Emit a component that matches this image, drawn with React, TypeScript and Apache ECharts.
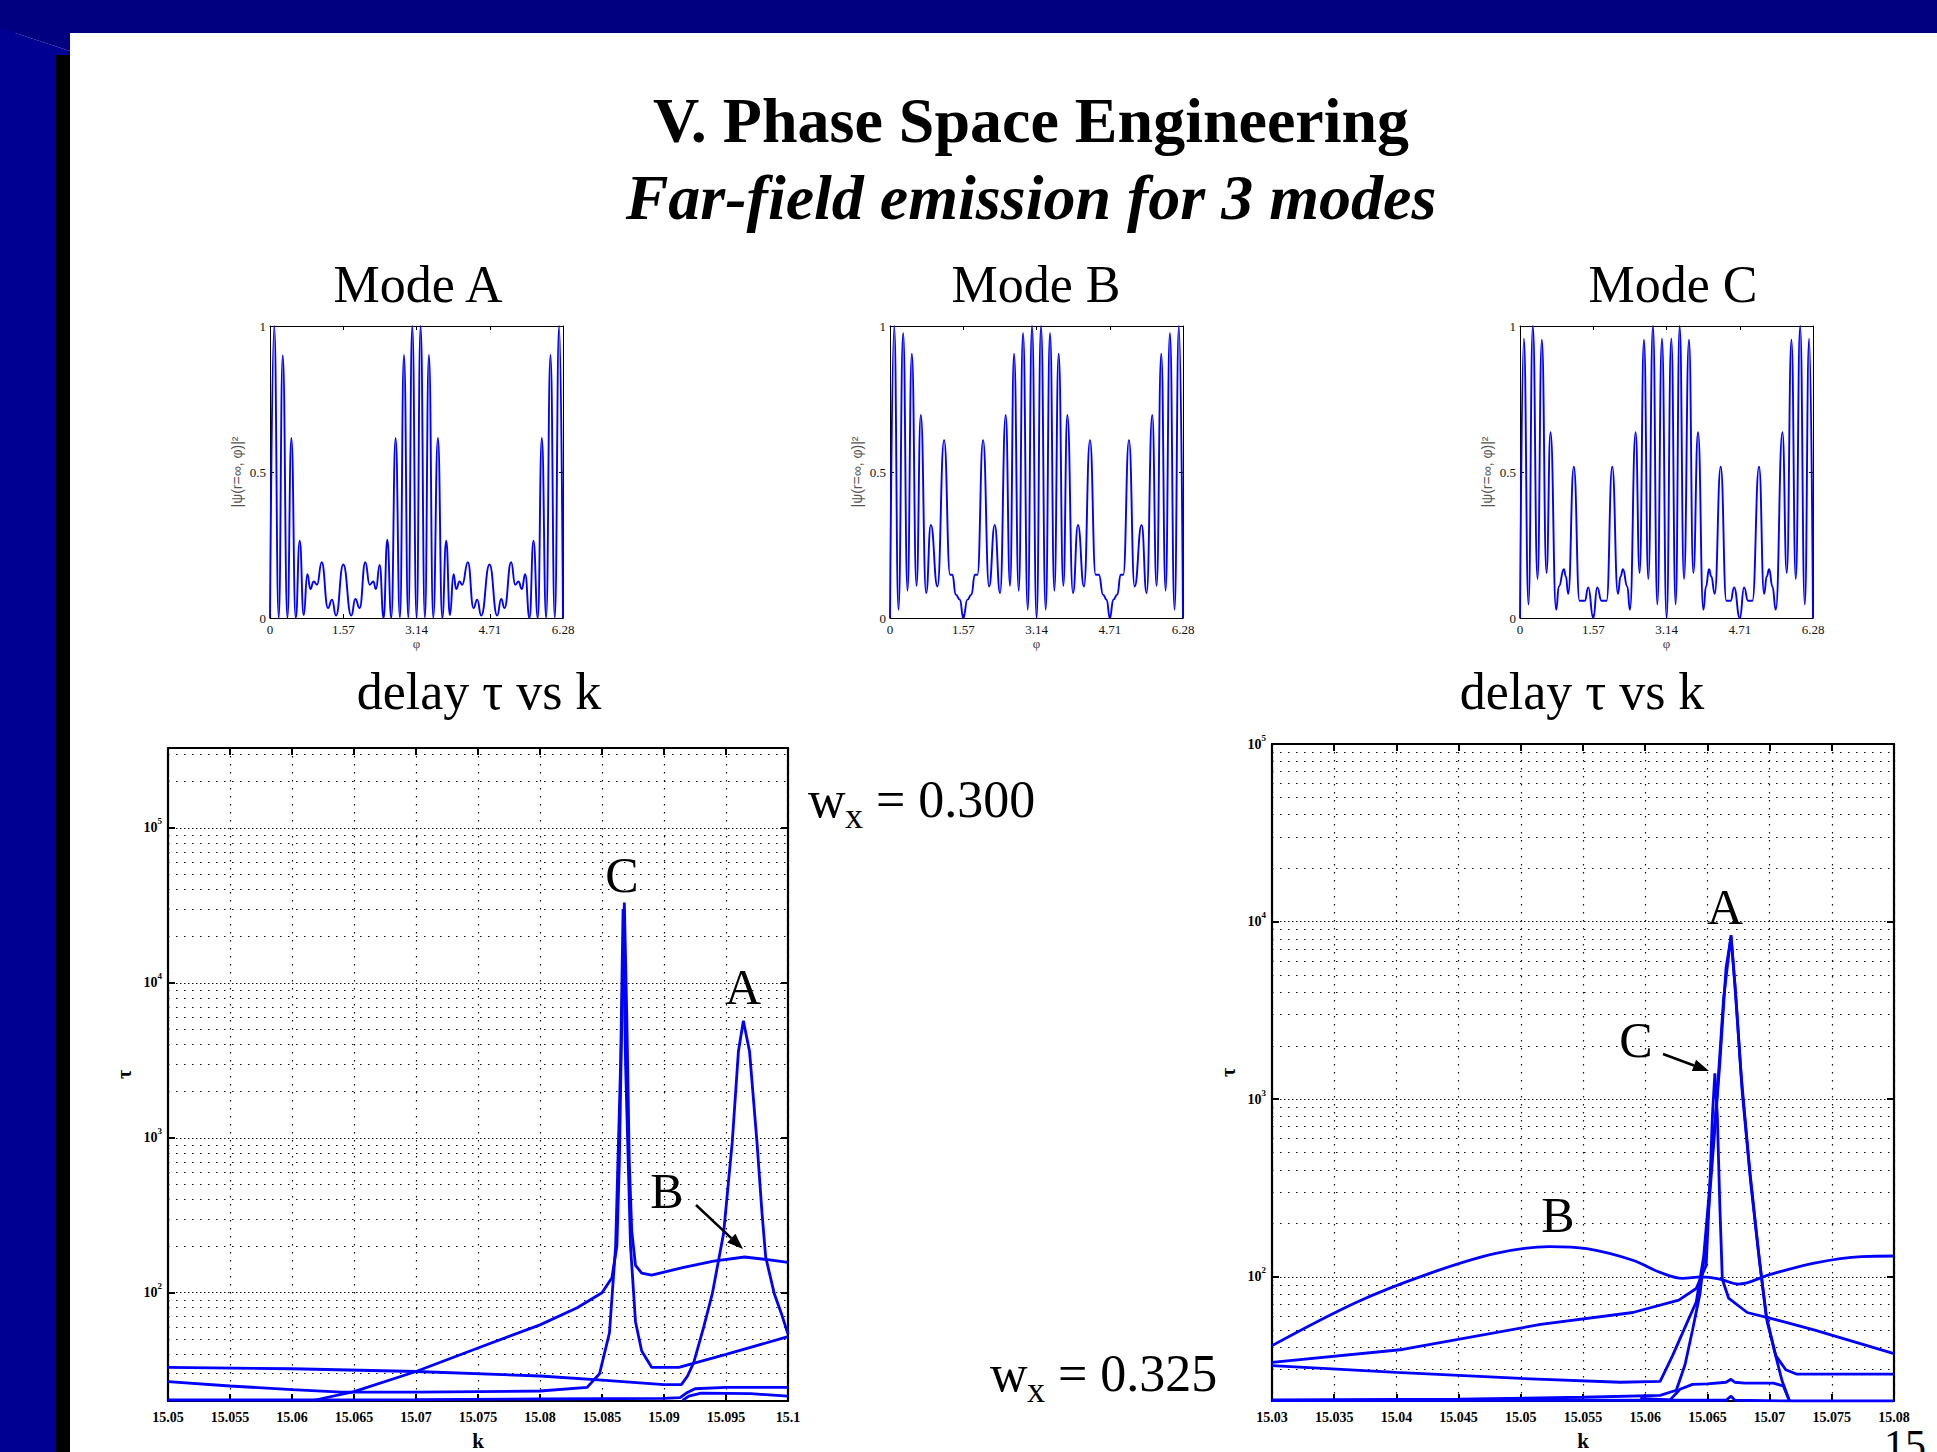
import React, { useEffect, useRef } from 'react';
import * as echarts from 'echarts';

const W = 1937;
const H = 1452;
const SERIF = '"Liberation Serif", "Times New Roman", serif';
const SANS = '"Liberation Sans", Arial, sans-serif';
const BLUE = '#0000ff';

// ---------- far-field plots ----------
const phiTicks = ['0', '1.57', '3.14', '4.71', '6.28'];
const psiTicks = ['0', '0.5', '1'];

const modeA = [
  [0, 0], [0.09, 1.0], [0.187, 0], [0.273, 0.9], [0.373, 0], [0.458, 0.617], [0.551, 0], [0.637, 0.265],
  [0.722, 0.01], [0.801, 0.15], [0.865, 0.099], [0.936, 0.125], [1.008, 0.114], [1.108, 0.191], [1.243, 0.034],
  [1.329, 0.063], [1.415, 0.008], [1.57, 0.183], [1.743, 0.008], [1.829, 0.065], [1.921, 0.034], [2.043, 0.191],
  [2.136, 0.114], [2.214, 0.125], [2.271, 0.099], [2.35, 0.182], [2.435, 0], [2.514, 0.268], [2.6, 0],
  [2.692, 0.617], [2.785, 0], [2.871, 0.902], [2.964, 0], [3.049, 1.0], [3.142, 0], [3.228, 1.0], [3.32, 0],
  [3.406, 0.902], [3.499, 0], [3.599, 0.617], [3.692, 0], [3.777, 0.265], [3.856, 0.01], [3.934, 0.15],
  [3.991, 0.099], [4.063, 0.125], [4.12, 0.114], [4.241, 0.191], [4.363, 0.034], [4.441, 0.063], [4.527, 0.008],
  [4.705, 0.183], [4.869, 0.008], [4.955, 0.065], [5.026, 0.034], [5.169, 0.191], [5.255, 0.114], [5.326, 0.125],
  [5.398, 0.099], [5.469, 0.15], [5.562, 0], [5.647, 0.265], [5.74, 0], [5.826, 0.617], [5.919, 0], [6.011, 0.902],
  [6.104, 0], [6.197, 1.0], [6.28, 0],
];

const modeB = [
  [0, 0], [0.09, 1.0], [0.182, 0.028], [0.282, 0.976], [0.375, 0.093], [0.468, 0.905], [0.568, 0.11], [0.66, 0.695],
  [0.775, 0.085], [0.875, 0.319], [1.017, 0.108], [1.16, 0.609], [1.288, 0.148], [1.338, 0.148], [1.408, 0.08],
  [1.498, 0.063], [1.571, 0], [1.658, 0.063], [1.745, 0.08], [1.818, 0.148], [1.874, 0.148], [1.995, 0.609],
  [2.124, 0.108], [2.245, 0.319], [2.359, 0.085], [2.48, 0.695], [2.573, 0.11], [2.659, 0.905], [2.759, 0.093],
  [2.852, 0.976], [2.952, 0.028], [3.044, 1.0], [3.142, 0], [3.237, 1.0], [3.337, 0.028], [3.43, 0.976],
  [3.523, 0.093], [3.615, 0.905], [3.715, 0.11], [3.801, 0.695], [3.922, 0.085], [4.029, 0.319], [4.158, 0.108],
  [4.286, 0.609], [4.408, 0.148], [4.478, 0.148], [4.565, 0.08], [4.643, 0.063], [4.712, 0], [4.786, 0.063],
  [4.872, 0.08], [4.943, 0.148], [5.0, 0.148], [5.122, 0.609], [5.243, 0.108], [5.393, 0.319], [5.5, 0.085],
  [5.621, 0.695], [5.714, 0.11], [5.814, 0.905], [5.907, 0.093], [5.999, 0.976], [6.099, 0.028], [6.192, 1.0],
  [6.28, 0],
];

const modeC = [
  [0, 0], [0.082, 0.957], [0.182, 0.046], [0.275, 1.0], [0.375, 0.133], [0.468, 0.953], [0.568, 0.154],
  [0.654, 0.636], [0.775, 0.028], [0.833, 0.108], [0.94, 0.167], [0.983, 0.142], [1.033, 0.083], [1.154, 0.518],
  [1.276, 0.059], [1.39, 0.059], [1.462, 0.105], [1.571, 0], [1.655, 0.105], [1.748, 0.059], [1.856, 0.059],
  [1.977, 0.518], [2.099, 0.083], [2.156, 0.142], [2.206, 0.167], [2.299, 0.108], [2.356, 0.028], [2.478, 0.636],
  [2.564, 0.154], [2.657, 0.953], [2.75, 0.133], [2.85, 1.0], [2.943, 0.046], [3.043, 0.957], [3.142, 0],
  [3.243, 0.957], [3.336, 0.046], [3.422, 1.0], [3.515, 0.133], [3.622, 0.953], [3.715, 0.154], [3.816, 0.636],
  [3.93, 0.028], [3.987, 0.108], [4.051, 0.167], [4.1, 0.142], [4.173, 0.083], [4.302, 0.518], [4.423, 0.059],
  [4.516, 0.059], [4.588, 0.105], [4.712, 0], [4.803, 0.105], [4.888, 0.059], [4.981, 0.059], [5.124, 0.518],
  [5.232, 0.083], [5.289, 0.142], [5.339, 0.167], [5.41, 0.108], [5.482, 0.028], [5.625, 0.636], [5.718, 0.154],
  [5.818, 0.953], [5.911, 0.133], [6.004, 1.0], [6.104, 0.046], [6.197, 0.957], [6.28, 0],
];

// ---------- delay vs k plots ----------
const kTicksLeft = ['15.05', '15.055', '15.06', '15.065', '15.07', '15.075', '15.08', '15.085', '15.09', '15.095', '15.1'];
const kTicksRight = ['15.03', '15.035', '15.04', '15.045', '15.05', '15.055', '15.06', '15.065', '15.07', '15.075', '15.08'];
const kRangeLeft = [15.05, 15.1];
const kRangeRight = [15.03, 15.08];
const tauRangeLeft = [20, 328000];
const tauRangeRight = [20, 100000];
const tauDecades = [100, 1000, 10000, 100000];

// w_x = 0.300
const leftS1 = [
  [15.0615, 20], [15.065, 23], [15.07, 31], [15.075, 44], [15.08, 62], [15.083, 80], [15.085, 100], [15.0858, 125],
  [15.0862, 200], [15.0864, 700], [15.0866, 6000], [15.0868, 33000], [15.087, 6000], [15.0872, 700], [15.0874, 250],
  [15.0877, 150], [15.0882, 134], [15.089, 130], [15.0915, 145], [15.094, 160], [15.0965, 170], [15.0985, 163],
  [15.1, 157],
];
const leftS2 = [
  [15.05, 33], [15.06, 32.3], [15.07, 31], [15.08, 29], [15.085, 27.3], [15.09, 25.5], [15.0914, 25.5],
  [15.0919, 29], [15.0924, 35.5], [15.0932, 60], [15.0939, 99], [15.0948, 240], [15.0955, 930], [15.096, 3600],
  [15.0964, 5700], [15.0969, 3600], [15.0975, 930], [15.0979, 330], [15.0982, 170], [15.0989, 98], [15.0995, 72],
  [15.1, 54],
];
const leftS3 = [
  [15.05, 26.7], [15.055, 25], [15.06, 23.7], [15.064, 22.8], [15.07, 22.8], [15.08, 23.2], [15.0838, 24.5],
  [15.0848, 30], [15.0856, 55], [15.0861, 200], [15.0865, 3000], [15.0867, 30000], [15.0869, 3000], [15.0873, 200],
  [15.0877, 65], [15.0882, 42], [15.089, 33], [15.0912, 33], [15.095, 40], [15.1, 52],
];
const leftS4 = [
  [15.05, 20.3], [15.06, 20.3], [15.07, 20.4], [15.08, 20.6], [15.09, 20.8], [15.0913, 21], [15.0918, 22.5],
  [15.0925, 24], [15.095, 24.5], [15.1, 24.5],
];
const leftS5 = [[15.0915, 20.2], [15.092, 21.5], [15.093, 22.5], [15.097, 22.3], [15.1, 21.5]];

// w_x = 0.325
const rightB = [
  [15.03, 41], [15.0368, 72], [15.0424, 103], [15.0479, 135], [15.0523, 148], [15.0553, 144], [15.059, 124],
  [15.0612, 106], [15.063, 98], [15.0645, 100], [15.066, 97], [15.0675, 91], [15.07, 103], [15.0737, 120],
  [15.0774, 130], [15.08, 131],
];
const rightC = [
  [15.03, 33], [15.0405, 39], [15.0516, 54], [15.059, 63], [15.0627, 74], [15.0641, 86], [15.0649, 116],
  [15.0652, 330], [15.0654, 800], [15.0656, 1400], [15.0658, 800], [15.066, 250], [15.0662, 97], [15.0667, 76],
  [15.0682, 63], [15.0711, 56], [15.0737, 50], [15.08, 37],
];
const rightA1 = [
  [15.03, 31.6], [15.04, 29], [15.05, 26.8], [15.058, 25.5], [15.0612, 25.8], [15.0622, 36], [15.0634, 56],
  [15.0641, 72], [15.0647, 130], [15.0652, 330], [15.0658, 1100], [15.0663, 3700], [15.0669, 8400], [15.0673, 3700],
  [15.0678, 1100], [15.0685, 330], [15.0692, 120], [15.0698, 56], [15.0705, 36], [15.0713, 30], [15.0722, 28.3],
  [15.08, 28.3],
];
const rightA2 = [
  [15.03, 20.3], [15.045, 20.5], [15.055, 21], [15.0612, 21.5], [15.0625, 23], [15.0632, 32], [15.0638, 50],
  [15.0644, 80], [15.0649, 160], [15.0654, 450], [15.066, 1600], [15.0665, 5500], [15.0669, 8200], [15.0672, 4500],
  [15.0677, 1400], [15.0684, 400], [15.0691, 140], [15.0697, 62], [15.0704, 38], [15.071, 26], [15.0716, 20],
];
const rightBump = [
  [15.0596, 20.7], [15.062, 20.3], [15.0628, 23.3], [15.0638, 24.8], [15.065, 25], [15.0665, 25.5], [15.0669, 26.5],
  [15.0672, 25.5], [15.068, 25.2], [15.0703, 25.2], [15.0711, 24.3], [15.0716, 20],
];
const rightBottom = [
  [15.03, 20.1], [15.06, 20.2], [15.0665, 20.2], [15.0669, 21.3], [15.0672, 20.2], [15.072, 20], [15.08, 20],
];

function logGridValues(min: number, max: number) {
  const out: { v: number; decade: boolean }[] = [];
  for (let e = 1; e <= 6; e++) {
    const d = Math.pow(10, e);
    for (let m = 1; m <= 9; m++) {
      const v = m * d;
      if (v > min * 1.001 && v < max * 0.999) out.push({ v, decade: m === 1 });
    }
  }
  return out;
}

function smallAxes(g: number) {
  const line = { show: true, onZero: false, lineStyle: { color: '#000', width: 1 } };
  const tick = { show: true, inside: true, length: 4, lineStyle: { color: '#000', width: 1 } };
  const x = [
    {
      type: 'value', gridIndex: g, position: 'bottom', min: 0, max: 6.28, interval: 1.57,
      axisLine: line, axisTick: tick, splitLine: { show: false },
      axisLabel: {
        margin: 5, color: '#111', fontFamily: SERIF, fontSize: 13,
        formatter: (v: number) => phiTicks[Math.round(v / 1.57)] ?? '',
      },
      name: 'φ', nameLocation: 'middle', nameGap: 19, nameMoveOverlap: false,
      nameTextStyle: { fontFamily: SERIF, fontSize: 13, color: '#444' },
    },
    {
      type: 'value', gridIndex: g, position: 'top', min: 0, max: 6.28, interval: 1.57,
      axisLine: line, axisTick: tick, splitLine: { show: false }, axisLabel: { show: false },
    },
  ];
  const y = [
    {
      type: 'value', gridIndex: g, position: 'left', min: 0, max: 1, interval: 0.5,
      axisLine: line, axisTick: tick, splitLine: { show: false },
      axisLabel: {
        margin: 4, color: '#111', fontFamily: SERIF, fontSize: 13,
        formatter: (v: number) => psiTicks[Math.round(v / 0.5)] ?? '',
      },
      name: '|ψ(r=∞, φ)|²', nameLocation: 'middle', nameGap: 26, nameRotate: 90, nameMoveOverlap: false,
      nameTextStyle: { fontFamily: SANS, fontSize: 14, color: '#555' },
    },
    {
      type: 'value', gridIndex: g, position: 'right', min: 0, max: 1, interval: 0.5,
      axisLine: line, axisTick: tick, splitLine: { show: false }, axisLabel: { show: false },
    },
  ];
  return { x, y };
}

function bigAxes(g: number, kRange: number[], kLabels: string[], tauRange: number[]) {
  const line = { show: true, onZero: false, lineStyle: { color: '#000', width: 2.2 } };
  const tick = { show: true, inside: true, length: 7, lineStyle: { color: '#000', width: 2 } };
  const x = [
    {
      type: 'value', gridIndex: g, position: 'bottom', min: kRange[0], max: kRange[1], interval: 0.005,
      axisLine: line, axisTick: tick,
      splitLine: { show: true, lineStyle: { color: '#111', width: 1.2, type: [1.5, 6.5] } },
      axisLabel: {
        margin: 9, color: '#000', fontFamily: SERIF, fontWeight: 'bold', fontSize: 14,
        formatter: (v: number) => kLabels[Math.round((v - kRange[0]) / 0.005)] ?? '',
      },
      name: 'k', nameLocation: 'middle', nameGap: 29, nameMoveOverlap: false,
      nameTextStyle: { fontFamily: SERIF, fontWeight: 'bold', fontSize: 21, color: '#000' },
    },
    {
      type: 'value', gridIndex: g, position: 'top', min: kRange[0], max: kRange[1], interval: 0.005,
      axisLine: line, axisTick: tick, splitLine: { show: false }, axisLabel: { show: false },
    },
  ];
  const y = [
    {
      type: 'log', logBase: 10, gridIndex: g, position: 'left', min: tauRange[0], max: tauRange[1],
      axisLine: line, axisTick: tick, splitLine: { show: false },
      axisLabel: {
        margin: 6,
        formatter: (v: number) => {
          const i = tauDecades.findIndex((d) => Math.abs(d - v) / d < 1e-6);
          return i < 0 ? '' : `{b|10}{s|${Math.round(Math.log10(tauDecades[i]))}}`;
        },
        rich: {
          b: { fontFamily: SERIF, fontWeight: 'bold', fontSize: 14, color: '#000', lineHeight: 22, verticalAlign: 'middle' },
          s: { fontFamily: SERIF, fontWeight: 'bold', fontSize: 9, color: '#000', lineHeight: 22, verticalAlign: 'top' },
        },
      },
      name: 'τ', nameLocation: 'middle', nameGap: 34, nameRotate: 90, nameMoveOverlap: false,
      nameTextStyle: { fontFamily: SERIF, fontWeight: 'bold', fontSize: 20, color: '#000' },
    },
    {
      type: 'log', logBase: 10, gridIndex: g, position: 'right', min: tauRange[0], max: tauRange[1],
      axisLine: line, axisTick: tick, splitLine: { show: false }, axisLabel: { show: false },
    },
  ];
  return { x, y };
}

function blueLine(data: number[][], xi: number, yi: number, width: number, smooth: number | false = false, mono = false) {
  return {
    type: 'line', xAxisIndex: xi, yAxisIndex: yi, data, symbol: 'none', showSymbol: false, z: 3,
    smooth, smoothMonotone: mono ? 'x' : undefined,
    lineStyle: { color: BLUE, width }, emphasis: { disabled: true }, silent: true,
  };
}

function gridLines(xi: number, yi: number, kRange: number[], tauRange: number[]) {
  return {
    type: 'line', xAxisIndex: xi, yAxisIndex: yi, data: [[kRange[0], tauRange[0]]], symbol: 'none', z: 1,
    lineStyle: { opacity: 0 }, silent: true,
    markLine: {
      z: 1, silent: true, symbol: ['none', 'none'], label: { show: false }, animation: false,
      emphasis: { disabled: true },
      data: logGridValues(tauRange[0], tauRange[1]).map((g) => ({
        yAxis: g.v,
        lineStyle: { color: '#111', width: 1.2, type: g.decade ? [1.5, 2.5] : [1.5, 6.5] },
      })),
    },
  };
}

function txt(text: string, x: number, y: number, size: number, opts: any = {}) {
  return {
    type: 'text', x, y, silent: true, z: 20,
    style: {
      text, fill: '#000', fontFamily: SERIF, fontSize: size,
      fontWeight: opts.weight || 'normal', fontStyle: opts.style || 'normal',
      align: opts.align || 'center', textAlign: opts.align || 'center',
      verticalAlign: 'middle', textVerticalAlign: 'middle',
    },
  };
}

function arrow(x1: number, y1: number, x2: number, y2: number) {
  const dx = x2 - x1, dy = y2 - y1;
  const len = Math.hypot(dx, dy);
  const ux = dx / len, uy = dy / len;
  const hl = 16, hw = 6;
  const bx = x2 - ux * hl, by = y2 - uy * hl;
  return [
    { type: 'line', silent: true, z: 20, shape: { x1, y1, x2: bx, y2: by }, style: { stroke: '#000', lineWidth: 2.5 } },
    {
      type: 'polygon', silent: true, z: 20,
      shape: { points: [[x2, y2], [bx - uy * hw, by + ux * hw], [bx + uy * hw, by - ux * hw]] },
      style: { fill: '#000' },
    },
  ];
}

export default function App() {
  const ref = useRef<HTMLDivElement>(null);
  useEffect(() => {
    if (!ref.current) return;
    const chart = echarts.init(ref.current, null, { renderer: 'svg', width: W, height: H });

    const sA = smallAxes(0), sB = smallAxes(1), sC = smallAxes(2);
    const bL = bigAxes(3, kRangeLeft, kTicksLeft, tauRangeLeft);
    const bR = bigAxes(4, kRangeRight, kTicksRight, tauRangeRight);
    const xAxis = [...sA.x, ...sB.x, ...sC.x, ...bL.x, ...bR.x];
    const yAxis = [...sA.y, ...sB.y, ...sC.y, ...bL.y, ...bR.y];

    const series: any[] = [
      blueLine(modeA, 0, 0, 1.9, 0.5, true),
      blueLine(modeB, 2, 2, 1.9, 0.5, true),
      blueLine(modeC, 4, 4, 1.9, 0.5, true),
      gridLines(6, 6, kRangeLeft, tauRangeLeft),
      blueLine(leftS1, 6, 6, 2.8),
      blueLine(leftS2, 6, 6, 2.8),
      blueLine(leftS3, 6, 6, 2.8),
      blueLine(leftS4, 6, 6, 2.8),
      blueLine(leftS5, 6, 6, 2.8),
      gridLines(8, 8, kRangeRight, tauRangeRight),
      blueLine(rightB, 8, 8, 2.8, 0.35),
      blueLine(rightC, 8, 8, 2.8),
      blueLine(rightA1, 8, 8, 2.8),
      blueLine(rightA2, 8, 8, 2.8),
      blueLine(rightBump, 8, 8, 2.8),
      blueLine(rightBottom, 8, 8, 2.8),
    ];

    const graphic: any[] = [
      { type: 'rect', silent: true, z: 0, shape: { x: 0, y: 0, width: W, height: 33 }, style: { fill: '#000080' } },
      { type: 'polygon', silent: true, z: 0, shape: { points: [[0, 0], [70, 0], [70, 51], [0, 28]] }, style: { fill: '#000080' } },
      { type: 'polygon', silent: true, z: 0, shape: { points: [[0, 28], [70, 51], [70, 55], [56, 55], [56, H], [0, H]] }, style: { fill: '#000092' } },
      { type: 'rect', silent: true, z: 0, shape: { x: 56, y: 55, width: 14, height: H - 55 }, style: { fill: '#000000' } },
      txt('V. Phase Space Engineering', 1031, 120, 64, { weight: 'bold' }),
      txt('Far-field emission for 3 modes', 1031, 197, 64, { weight: 'bold', style: 'italic' }),
      txt('Mode A', 418, 284, 52),
      txt('Mode B', 1036, 284, 52),
      txt('Mode C', 1673, 284, 52),
      txt('delay τ vs k', 479, 691, 52),
      txt('delay τ vs k', 1582, 691, 52),
      txt('w', 808, 799, 52, { align: 'left' }),
      txt('x', 845, 816, 36, { align: 'left' }),
      txt('= 0.300', 876, 799, 52, { align: 'left' }),
      txt('w', 990, 1373, 52, { align: 'left' }),
      txt('x', 1027, 1390, 36, { align: 'left' }),
      txt('= 0.325', 1058, 1373, 52, { align: 'left' }),
      txt('C', 622, 875, 50),
      txt('A', 743, 987, 50),
      txt('B', 667, 1191, 50),
      txt('A', 1725, 907, 50),
      txt('C', 1636, 1040, 50),
      txt('B', 1558, 1215, 50),
      txt('15', 1884, 1445, 42, { align: 'left' }),
      ...arrow(696, 1205, 743, 1249),
      ...arrow(1663, 1054, 1709, 1071),
    ];

    chart.setOption({
      animation: false,
      backgroundColor: '#ffffff',
      grid: [
        { left: 270, top: 326, width: 293, height: 292, containLabel: false, outerBoundsMode: 'none' },
        { left: 890, top: 326, width: 293, height: 292, containLabel: false, outerBoundsMode: 'none' },
        { left: 1520, top: 326, width: 293, height: 292, containLabel: false, outerBoundsMode: 'none' },
        { left: 168, top: 748, width: 620, height: 653, containLabel: false, outerBoundsMode: 'none' },
        { left: 1272, top: 744, width: 622, height: 657, containLabel: false, outerBoundsMode: 'none' },
      ],
      xAxis,
      yAxis,
      series,
      graphic,
    });
    return () => chart.dispose();
  }, []);
  return <div ref={ref} style={{ position: 'absolute', left: 0, top: 0, width: W, height: H }} />;
}
